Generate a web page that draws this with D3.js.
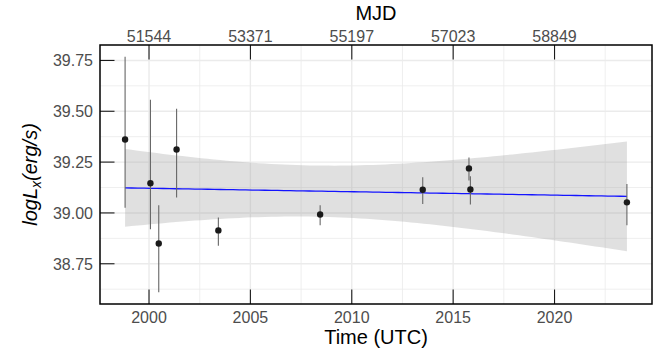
<!DOCTYPE html>
<meta charset="utf-8">
<style>
  body { margin: 0; background: #fff; }
  text { font-family: "Liberation Sans", Arial, sans-serif; }
</style>
<script src="https://d3js.org/d3.v7.min.js"></script>
<div id="my_dataviz"></div>
<script>

// observations (decimal year, log Lx and its error bar ends)
var years  = [1998.82, 2000.07, 2000.48, 2001.36, 2003.42, 2008.44, 2013.50, 2015.78, 2015.85, 2023.57];
var logLx  = [39.361, 39.146, 38.850, 39.312, 38.914, 38.992, 39.114, 39.219, 39.115, 39.052];
var errLo  = [39.026, 38.920, 38.610, 39.076, 38.838, 38.940, 39.044, 39.160, 39.041, 38.940];
var errHi  = [39.768, 39.557, 39.038, 39.512, 38.977, 39.038, 39.175, 39.273, 39.180, 39.142];

// tick labels
var yearTicks = [2000, 2005, 2010, 2015, 2020];
var mjdTicks  = [51544, 53371, 55197, 57023, 58849];
var yTicks    = [38.75, 39.00, 39.25, 39.50, 39.75];

var margin = {top: 45, right: 17, bottom: 48, left: 100},
    width = 669 - margin.left - margin.right,
    height = 352 - margin.top - margin.bottom;

var svg = d3.select("#my_dataviz")
  .append("svg")
    .attr("width", 669)
    .attr("height", 352)
  .append("g")
    .attr("transform", "translate(" + margin.left + "," + margin.top + ")");

var data = years.map(function(d, i) {
  return {t: d, y: logLx[i], lo: errLo[i], hi: errHi[i]};
});

// ggplot style 5% expansion
var xr = d3.extent(years), xpad = (xr[1] - xr[0]) * 0.05;
var yr = [d3.min(errLo), d3.max(errHi)], ypad = (yr[1] - yr[0]) * 0.05;

var x = d3.scaleLinear().domain([xr[0] - xpad, xr[1] + xpad]).range([0, width]);
var y = d3.scaleLinear().domain([yr[0] - ypad, yr[1] + ypad]).range([height, 0]);
// MJD on the top axis
var mjd = d3.scaleLinear()
  .domain(x.domain().map(function(t) { return 51544 + (t - 2000) * 365.25; }))
  .range([0, width]);

// grid
var minorX = yearTicks.map(function(d) { return d + 2.5; }).concat([1997.5]);
var minorY = yTicks.map(function(d) { return d - 0.125; }).concat([39.875]);
var grid = svg.append("g");
minorX.filter(function(d) { return d > x.domain()[0] && d < x.domain()[1]; }).forEach(function(d) {
  grid.append("line").attr("x1", x(d)).attr("x2", x(d)).attr("y1", 0).attr("y2", height)
    .attr("stroke", "#ebebeb").attr("stroke-width", 0.8);
});
minorY.filter(function(d) { return d > y.domain()[0] && d < y.domain()[1]; }).forEach(function(d) {
  grid.append("line").attr("x1", 0).attr("x2", width).attr("y1", y(d)).attr("y2", y(d))
    .attr("stroke", "#ebebeb").attr("stroke-width", 0.8);
});
yearTicks.forEach(function(d) {
  grid.append("line").attr("x1", x(d)).attr("x2", x(d)).attr("y1", 0).attr("y2", height)
    .attr("stroke", "#ebebeb").attr("stroke-width", 1.4);
});
yTicks.forEach(function(d) {
  grid.append("line").attr("x1", 0).attr("x2", width).attr("y1", y(d)).attr("y2", y(d))
    .attr("stroke", "#ebebeb").attr("stroke-width", 1.4);
});

// linear fit with 95% band (like geom_smooth(method = "lm"))
var n = data.length,
    mx = d3.mean(years), my = d3.mean(logLx),
    sxx = d3.sum(years, function(d) { return (d - mx) * (d - mx); }),
    sxy = d3.sum(data, function(d) { return (d.t - mx) * (d.y - my); }),
    slope = sxy / sxx, icpt = my - slope * mx,
    sse = d3.sum(data, function(d) { var r = d.y - (icpt + slope * d.t); return r * r; }),
    s = Math.sqrt(sse / (n - 2)),
    tq = 2.306; // t(0.975, df = 8)

var fit = d3.range(80).map(function(i) {
  var t = xr[0] + (xr[1] - xr[0]) * i / 79,
      f = icpt + slope * t,
      se = s * Math.sqrt(1 / n + (t - mx) * (t - mx) / sxx);
  return {t: t, f: f, lo: f - tq * se, hi: f + tq * se};
});

svg.append("path")
  .datum(fit)
  .attr("fill", "#999999")
  .attr("fill-opacity", 0.3)
  .attr("d", d3.area()
    .x(function(d) { return x(d.t); })
    .y0(function(d) { return y(d.lo); })
    .y1(function(d) { return y(d.hi); }));

svg.append("path")
  .datum(fit)
  .attr("fill", "none")
  .attr("stroke", "#1414ff")
  .attr("stroke-width", 1.3)
  .attr("d", d3.line()
    .x(function(d) { return x(d.t); })
    .y(function(d) { return y(d.f); }));

// error bars
svg.selectAll(".err")
  .data(data)
  .enter().append("line")
    .attr("x1", function(d) { return x(d.t); })
    .attr("x2", function(d) { return x(d.t); })
    .attr("y1", function(d) { return y(d.lo); })
    .attr("y2", function(d) { return y(d.hi); })
    .attr("stroke", "#666666")
    .attr("stroke-width", 1.1);

// points
svg.selectAll(".pt")
  .data(data)
  .enter().append("circle")
    .attr("cx", function(d) { return x(d.t); })
    .attr("cy", function(d) { return y(d.y); })
    .attr("r", 3.2)
    .attr("fill", "#1a1a1a");

// axes with inward ticks
var tickLen = 14.5;
var ax = svg.append("g").attr("font-size", 16).attr("fill", "#4d4d4d");

yTicks.forEach(function(d) {
  svg.append("line").attr("x1", 0).attr("x2", tickLen).attr("y1", y(d)).attr("y2", y(d))
    .attr("stroke", "#1a1a1a").attr("stroke-width", 1.1);
  ax.append("text").attr("x", -7).attr("y", y(d)).attr("dy", "0.36em")
    .attr("text-anchor", "end").text(d3.format(".2f")(d));
});
yearTicks.forEach(function(d) {
  svg.append("line").attr("x1", x(d)).attr("x2", x(d)).attr("y1", height).attr("y2", height - tickLen)
    .attr("stroke", "#1a1a1a").attr("stroke-width", 1.1);
  ax.append("text").attr("x", x(d)).attr("y", height + 18.7)
    .attr("text-anchor", "middle").text(d);
});
mjdTicks.forEach(function(d) {
  svg.append("line").attr("x1", mjd(d)).attr("x2", mjd(d)).attr("y1", 0).attr("y2", tickLen)
    .attr("stroke", "#1a1a1a").attr("stroke-width", 1.1);
  ax.append("text").attr("x", mjd(d)).attr("y", -3.3)
    .attr("text-anchor", "middle").text(d);
});

// panel border
svg.append("rect")
  .attr("width", width).attr("height", height)
  .attr("fill", "none").attr("stroke", "#000").attr("stroke-width", 1.5);

// titles
svg.append("text")
  .attr("x", width / 2).attr("y", -25)
  .attr("text-anchor", "middle").attr("font-size", 20).attr("fill", "#000")
  .text("MJD");

svg.append("text")
  .attr("x", width / 2).attr("y", height + 40)
  .attr("text-anchor", "middle").attr("font-size", 20).attr("fill", "#000")
  .text("Time (UTC)");

var ylab = svg.append("text")
  .attr("transform", "translate(" + (37 - margin.left) + "," + (height / 2) + ") rotate(-90)")
  .attr("text-anchor", "middle").attr("font-size", 20).attr("font-style", "italic").attr("fill", "#000");
ylab.append("tspan").text("logL");
ylab.append("tspan").attr("font-size", 14).attr("dy", 4).text("x");
ylab.append("tspan").attr("dy", -4).text("(erg/s)");

</script>
